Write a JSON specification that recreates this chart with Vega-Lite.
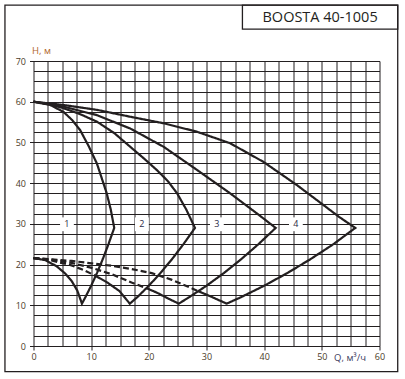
{
  "$schema": "https://vega.github.io/schema/vega-lite/v6.json",
  "width": 346,
  "height": 285,
  "autosize": "none",
  "padding": {"left": 33.5, "top": 61, "right": 25, "bottom": 33},
  "background": "white",
  "config": {"view": {"stroke": null}, "font": "Open Sans"},
  "resolve": {"axis": {"x": "independent", "y": "independent"}},
  "datasets": {
    "curves": [
      {"id": "c1", "style": "solid", "o": 1, "q": 0, "h": 60},
      {"id": "c1", "style": "solid", "o": 2, "q": 2.9, "h": 59.2},
      {"id": "c1", "style": "solid", "o": 3, "q": 5.2, "h": 57.5},
      {"id": "c1", "style": "solid", "o": 4, "q": 6.7, "h": 55.5},
      {"id": "c1", "style": "solid", "o": 5, "q": 8.1, "h": 53},
      {"id": "c1", "style": "solid", "o": 6, "q": 9.6, "h": 49},
      {"id": "c1", "style": "solid", "o": 7, "q": 11, "h": 44.8},
      {"id": "c1", "style": "solid", "o": 8, "q": 12.7, "h": 37.5},
      {"id": "c1", "style": "solid", "o": 9, "q": 13.4, "h": 33.5},
      {"id": "c1", "style": "solid", "o": 10, "q": 14, "h": 29},
      {"id": "c1", "style": "solid", "o": 11, "q": 13, "h": 25},
      {"id": "c1", "style": "solid", "o": 12, "q": 12, "h": 21.3},
      {"id": "c1", "style": "solid", "o": 13, "q": 11, "h": 17.9},
      {"id": "c1", "style": "solid", "o": 14, "q": 10, "h": 14.8},
      {"id": "c1", "style": "solid", "o": 15, "q": 9, "h": 12},
      {"id": "c1", "style": "solid", "o": 16, "q": 8.4, "h": 10.4},
      {"id": "c1", "style": "solid", "o": 17, "q": 7.6, "h": 13.6},
      {"id": "c1", "style": "solid", "o": 18, "q": 6.6, "h": 16},
      {"id": "c1", "style": "solid", "o": 19, "q": 5.5, "h": 17.8},
      {"id": "c1", "style": "solid", "o": 20, "q": 4, "h": 19.6},
      {"id": "c1", "style": "solid", "o": 21, "q": 2, "h": 21.1},
      {"id": "c1", "style": "solid", "o": 22, "q": 0, "h": 21.6},

      {"id": "c2", "style": "solid", "o": 1, "q": 0, "h": 60},
      {"id": "c2", "style": "solid", "o": 2, "q": 2.5, "h": 59.5},
      {"id": "c2", "style": "solid", "o": 3, "q": 5.2, "h": 58.4},
      {"id": "c2", "style": "solid", "o": 4, "q": 8, "h": 57},
      {"id": "c2", "style": "solid", "o": 5, "q": 11, "h": 55.1},
      {"id": "c2", "style": "solid", "o": 6, "q": 14, "h": 52.3},
      {"id": "c2", "style": "solid", "o": 7, "q": 16.8, "h": 48.9},
      {"id": "c2", "style": "solid", "o": 8, "q": 19.2, "h": 46},
      {"id": "c2", "style": "solid", "o": 9, "q": 21.4, "h": 43.2},
      {"id": "c2", "style": "solid", "o": 10, "q": 23.3, "h": 40.5},
      {"id": "c2", "style": "solid", "o": 11, "q": 24.9, "h": 37.5},
      {"id": "c2", "style": "solid", "o": 12, "q": 26.5, "h": 33.5},
      {"id": "c2", "style": "solid", "o": 13, "q": 28, "h": 29},
      {"id": "c2", "style": "solid", "o": 14, "q": 26, "h": 25},
      {"id": "c2", "style": "solid", "o": 15, "q": 24, "h": 21.3},
      {"id": "c2", "style": "solid", "o": 16, "q": 22, "h": 17.9},
      {"id": "c2", "style": "solid", "o": 17, "q": 20, "h": 14.8},
      {"id": "c2", "style": "solid", "o": 18, "q": 18, "h": 12},
      {"id": "c2", "style": "solid", "o": 19, "q": 16.7, "h": 10.4},
      {"id": "c2", "style": "solid", "o": 20, "q": 14.9, "h": 13.5},
      {"id": "c2", "style": "solid", "o": 21, "q": 12.8, "h": 15.6},
      {"id": "c2", "style": "solid", "o": 22, "q": 10.8, "h": 17.2},

      {"id": "c2d", "style": "dashed", "o": 1, "q": 0, "h": 21.6},
      {"id": "c2d", "style": "dashed", "o": 2, "q": 3.1, "h": 21.0},
      {"id": "c2d", "style": "dashed", "o": 3, "q": 6.6, "h": 19.8},
      {"id": "c2d", "style": "dashed", "o": 4, "q": 8.8, "h": 18.6},
      {"id": "c2d", "style": "dashed", "o": 5, "q": 10.8, "h": 17.2},

      {"id": "c3", "style": "solid", "o": 1, "q": 0, "h": 60},
      {"id": "c3", "style": "solid", "o": 2, "q": 5.2, "h": 58.8},
      {"id": "c3", "style": "solid", "o": 3, "q": 11, "h": 56.7},
      {"id": "c3", "style": "solid", "o": 4, "q": 16.8, "h": 53.4},
      {"id": "c3", "style": "solid", "o": 5, "q": 22.6, "h": 48.9},
      {"id": "c3", "style": "solid", "o": 6, "q": 28.4, "h": 43.2},
      {"id": "c3", "style": "solid", "o": 7, "q": 34.1, "h": 37.5},
      {"id": "c3", "style": "solid", "o": 8, "q": 38.8, "h": 32.5},
      {"id": "c3", "style": "solid", "o": 9, "q": 42, "h": 29},
      {"id": "c3", "style": "solid", "o": 10, "q": 39, "h": 25},
      {"id": "c3", "style": "solid", "o": 11, "q": 36, "h": 21.3},
      {"id": "c3", "style": "solid", "o": 12, "q": 33, "h": 17.9},
      {"id": "c3", "style": "solid", "o": 13, "q": 30, "h": 14.8},
      {"id": "c3", "style": "solid", "o": 14, "q": 27, "h": 12},
      {"id": "c3", "style": "solid", "o": 15, "q": 25.2, "h": 10.4},
      {"id": "c3", "style": "solid", "o": 16, "q": 23.3, "h": 11.7},
      {"id": "c3", "style": "solid", "o": 17, "q": 21.4, "h": 13.1},
      {"id": "c3", "style": "solid", "o": 18, "q": 19.6, "h": 14.2},

      {"id": "c3d", "style": "dashed", "o": 1, "q": 0, "h": 21.6},
      {"id": "c3d", "style": "dashed", "o": 2, "q": 3.1, "h": 21.2},
      {"id": "c3d", "style": "dashed", "o": 3, "q": 6.6, "h": 20.4},
      {"id": "c3d", "style": "dashed", "o": 4, "q": 10.1, "h": 19.2},
      {"id": "c3d", "style": "dashed", "o": 5, "q": 13.6, "h": 17.6},
      {"id": "c3d", "style": "dashed", "o": 6, "q": 17, "h": 15.6},
      {"id": "c3d", "style": "dashed", "o": 7, "q": 19.6, "h": 14.2},

      {"id": "c4", "style": "solid", "o": 1, "q": 0, "h": 60},
      {"id": "c4", "style": "solid", "o": 2, "q": 5.2, "h": 59.2},
      {"id": "c4", "style": "solid", "o": 3, "q": 11, "h": 58},
      {"id": "c4", "style": "solid", "o": 4, "q": 16.8, "h": 56.3},
      {"id": "c4", "style": "solid", "o": 5, "q": 22.6, "h": 54.7},
      {"id": "c4", "style": "solid", "o": 6, "q": 28.4, "h": 52.6},
      {"id": "c4", "style": "solid", "o": 7, "q": 34.1, "h": 49.8},
      {"id": "c4", "style": "solid", "o": 8, "q": 39.9, "h": 45.2},
      {"id": "c4", "style": "solid", "o": 9, "q": 45.7, "h": 39.5},
      {"id": "c4", "style": "solid", "o": 10, "q": 50.3, "h": 34.6},
      {"id": "c4", "style": "solid", "o": 11, "q": 53, "h": 31.7},
      {"id": "c4", "style": "solid", "o": 12, "q": 55.8, "h": 29},
      {"id": "c4", "style": "solid", "o": 13, "q": 52, "h": 25},
      {"id": "c4", "style": "solid", "o": 14, "q": 48, "h": 21.3},
      {"id": "c4", "style": "solid", "o": 15, "q": 44, "h": 17.9},
      {"id": "c4", "style": "solid", "o": 16, "q": 40, "h": 14.8},
      {"id": "c4", "style": "solid", "o": 17, "q": 36, "h": 12},
      {"id": "c4", "style": "solid", "o": 18, "q": 33.5, "h": 10.4},
      {"id": "c4", "style": "solid", "o": 19, "q": 30.2, "h": 12.5},
      {"id": "c4", "style": "solid", "o": 20, "q": 28.6, "h": 13.45},

      {"id": "c4d", "style": "dashed", "o": 1, "q": 0, "h": 21.6},
      {"id": "c4d", "style": "dashed", "o": 2, "q": 3.1, "h": 21.3},
      {"id": "c4d", "style": "dashed", "o": 3, "q": 6.6, "h": 20.9},
      {"id": "c4d", "style": "dashed", "o": 4, "q": 10.1, "h": 20.3},
      {"id": "c4d", "style": "dashed", "o": 5, "q": 13.6, "h": 19.7},
      {"id": "c4d", "style": "dashed", "o": 6, "q": 17, "h": 18.9},
      {"id": "c4d", "style": "dashed", "o": 7, "q": 20.5, "h": 17.9},
      {"id": "c4d", "style": "dashed", "o": 8, "q": 23.9, "h": 16.3},
      {"id": "c4d", "style": "dashed", "o": 9, "q": 27.4, "h": 14.2},
      {"id": "c4d", "style": "dashed", "o": 10, "q": 28.6, "h": 13.45}
    ],
    "labels": [
      {"n": "1", "q": 5.8, "h": 29.9},
      {"n": "2", "q": 18.8, "h": 29.9},
      {"n": "3", "q": 31.8, "h": 29.9},
      {"n": "4", "q": 45.5, "h": 29.9}
    ]
  },
  "layer": [
    {
      "data": {"name": "curves"},
      "mark": {"type": "line", "stroke": "#231f20", "strokeWidth": 2.2, "strokeJoin": "miter", "strokeCap": "butt"},
      "encoding": {
        "x": {
          "field": "q", "type": "quantitative",
          "scale": {"domain": [0, 60], "nice": false, "zero": false},
          "axis": {
            "title": "Q, м³/ч",
            "values": [0, 2.5, 5, 7.5, 10, 12.5, 15, 17.5, 20, 22.5, 25, 27.5, 30, 32.5, 35, 37.5, 40, 42.5, 45, 47.5, 50, 52.5, 55, 57.5, 60],
            "labelExpr": "datum.value % 10 === 0 ? datum.label : ''",
            "grid": true, "gridColor": "#231f20", "gridOpacity": 1, "gridWidth": 1,
            "domain": false,
            "tickColor": "#231f20", "tickWidth": 1,
            "tickSize": {"condition": {"test": "datum.value % 10 === 0", "value": 4}, "value": 0},
            "labelFontSize": 9, "labelColor": "#4a3b28", "labelPadding": 2, "labelFlush": false, "labelOverlap": false,
            "titleX": 316, "titleY": 11, "titleBaseline": "middle", "titleAlign": "center",
            "titleFontSize": 9.5, "titleFontWeight": "normal", "titleColor": "#3b3b5c"
          }
        },
        "y": {
          "field": "h", "type": "quantitative",
          "scale": {"domain": [0, 70], "nice": false, "zero": false},
          "axis": {
            "title": "H, м",
            "values": [0, 2.5, 5, 7.5, 10, 12.5, 15, 17.5, 20, 22.5, 25, 27.5, 30, 32.5, 35, 37.5, 40, 42.5, 45, 47.5, 50, 52.5, 55, 57.5, 60, 62.5, 65, 67.5, 70],
            "labelExpr": "datum.value % 10 === 0 ? datum.label : ''",
            "grid": true, "gridColor": "#231f20", "gridOpacity": 1, "gridWidth": 1,
            "domain": false,
            "tickColor": "#231f20", "tickWidth": 1,
            "tickSize": {"condition": {"test": "datum.value % 10 === 0", "value": 4}, "value": 0},
            "labelFontSize": 9, "labelColor": "#4a3b28", "labelPadding": 4, "labelOverlap": false,
            "titleAngle": 0, "titleX": -2, "titleY": -11, "titleAlign": "left", "titleBaseline": "middle",
            "titleFontSize": 9.5, "titleFontWeight": "normal", "titleColor": "#b0652a"
          }
        },
        "detail": {"field": "id"},
        "order": {"field": "o"},
        "strokeDash": {
          "field": "style", "type": "nominal",
          "scale": {"domain": ["solid", "dashed"], "range": [[1, 0], [6, 3]]},
          "legend": null
        }
      }
    },
    {
      "data": {"name": "labels"},
      "mark": {"type": "point", "shape": "square", "filled": true, "fill": "white", "stroke": null, "size": 190, "opacity": 1},
      "encoding": {
        "x": {"field": "q", "type": "quantitative", "axis": null},
        "y": {"field": "h", "type": "quantitative", "axis": null}
      }
    },
    {
      "data": {"name": "labels"},
      "mark": {"type": "text", "fontSize": 9, "color": "#2a2a45", "align": "center", "baseline": "middle"},
      "encoding": {
        "x": {"field": "q", "type": "quantitative", "axis": null},
        "y": {"field": "h", "type": "quantitative", "axis": null},
        "text": {"field": "n"}
      }
    },
    {
      "data": {"values": [{}]},
      "mark": {"type": "rect", "fill": null, "stroke": "#231f20", "strokeWidth": 1.3, "clip": false},
      "encoding": {
        "x": {"datum": -4.95, "type": "quantitative", "axis": null},
        "x2": {"datum": 63.16},
        "y": {"datum": -6.3, "type": "quantitative", "axis": null},
        "y2": {"datum": 83.7}
      }
    },
    {
      "data": {"values": [{}]},
      "mark": {"type": "rect", "fill": null, "stroke": "#231f20", "strokeWidth": 1.3, "clip": false},
      "encoding": {
        "x": {"datum": 36.23, "type": "quantitative", "axis": null},
        "x2": {"datum": 63.16},
        "y": {"datum": 77.85, "type": "quantitative", "axis": null},
        "y2": {"datum": 83.7}
      }
    },
    {
      "data": {"values": [{"t": "BOOSTA 40-1005"}]},
      "mark": {"type": "text", "fontSize": 14.5, "color": "#231f20", "align": "center", "baseline": "middle", "clip": false},
      "encoding": {
        "x": {"datum": 49.7, "type": "quantitative", "axis": null},
        "y": {"datum": 80.5, "type": "quantitative", "axis": null},
        "text": {"field": "t"}
      }
    }
  ]
}
